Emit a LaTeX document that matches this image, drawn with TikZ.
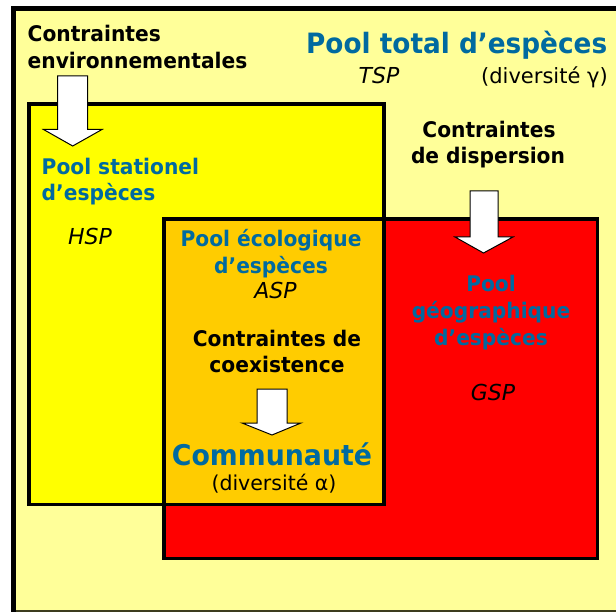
\documentclass[tikz,border=0pt]{standalone}
\usepackage{fontspec}
\setmainfont{DejaVu Sans}
\newfontfamily\hb{DejaVu Sans}[FakeStretch=0.94]
\definecolor{bgyellow}{RGB}{255,255,153}
\definecolor{hspyellow}{RGB}{255,255,0}
\definecolor{asporange}{RGB}{255,204,0}
\definecolor{gspred}{RGB}{255,0,0}
\definecolor{poolblue}{RGB}{0,106,160}
\definecolor{framedark}{RGB}{60,60,30}
\tikzset{
  lbl/.style={inner sep=0, text=black, font=\hb\bfseries\fontsize{21.5}{27}\selectfont},
  bl/.style={lbl, text=poolblue},
  itl/.style={inner sep=0, font=\fontsize{22}{27}\selectfont\itshape},
  rgl/.style={inner sep=0, font=\fontsize{21}{27}\selectfont},
  blockarrow/.style={fill=white, draw=black, line width=1pt, line join=miter},
  poolbox/.style={draw=black, line width=3.5pt, line join=miter}
}
\begin{document}
\begin{tikzpicture}[x=1pt,y=-1pt]
\useasboundingbox (0,0) rectangle (616,612);
\clip (0,0) rectangle (616,612);
\fill[white] (0,0) rectangle (616,612);
% outer frame (total pool)
\fill[bgyellow] (13.5,8.5) rectangle (620,611);
\draw[framedark, line width=1.2pt] (13.5,611) -- (620,611);
\draw[black, line width=5.5pt] (13.5,615) -- (13.5,8.5) -- (620,8.5);
% pools
\draw[poolbox, fill=hspyellow] (29,104) rectangle (384,504.5);
\draw[poolbox, fill=gspred] (164,219) rectangle (597.5,558.5);
\draw[poolbox, fill=asporange] (164,219) rectangle (384,504.5);
% block arrows
\draw[blockarrow] (57.5,76) -- (87.5,76) -- (87.5,129.5) -- (102,129.5) -- (72.7,146) -- (43.5,129.5) -- (57.5,129.5) -- cycle;
\draw[blockarrow] (470,191) -- (498,191) -- (498,237) -- (513,237) -- (483.5,253) -- (455,237) -- (470,237) -- cycle;
\draw[blockarrow] (257,389) -- (287,389) -- (287,423) -- (301,423) -- (272,435) -- (242,423) -- (257,423) -- cycle;
% texts
\node[lbl, anchor=base west] (env1) at (27.5,41.7) {Contraintes};
\node[lbl, anchor=base west] (env2) at (27.5,68.3) {environnementales};
\node[bl, anchor=base west, font=\hb\bfseries\fontsize{28}{30}\selectfont] (tsp1) at (306,53.3) {Pool total d’espèces};
\node[itl, anchor=base] (tsp2) at (379,83.3) {TSP};
\node[rgl, anchor=base west] (gamma) at (481,83.3) {(diversité γ)};
\node[lbl, anchor=base] (disp1) at (489,137.5) {Contraintes};
\node[lbl, anchor=base] (disp2) at (488,164) {de dispersion};
\node[bl, anchor=base west] (hsp1) at (41.5,174.3) {Pool stationel};
\node[bl, anchor=base west] (hsp2) at (41.5,200.5) {d’espèces};
\node[itl, anchor=base] (hsp3) at (90,245) {HSP};
\node[bl, anchor=base] (asp1) at (271,246.7) {Pool écologique};
\node[bl, anchor=base] (asp2) at (271,273.3) {d’espèces};
\node[itl, anchor=base] (asp3) at (275.5,299) {ASP};
\node[lbl, anchor=base] (coex1) at (277,346.7) {Contraintes de};
\node[lbl, anchor=base] (coex2) at (277,372.7) {coexistence};
\node[bl, anchor=base, font=\hb\bfseries\fontsize{28.5}{30}\selectfont] (comm) at (272,465) {Communauté};
\node[rgl, anchor=base, font=\fontsize{20.5}{27}\selectfont] (alpha) at (274,490) {(diversité α)};
\node[bl, anchor=base] (gsp1) at (491,291.7) {Pool};
\node[bl, anchor=base] (gsp2) at (491,318.3) {géographique};
\node[bl, anchor=base] (gsp3) at (491,345) {d’espèces};
\node[itl, anchor=base] (gsp4) at (493,400) {GSP};
\end{tikzpicture}
\end{document}
